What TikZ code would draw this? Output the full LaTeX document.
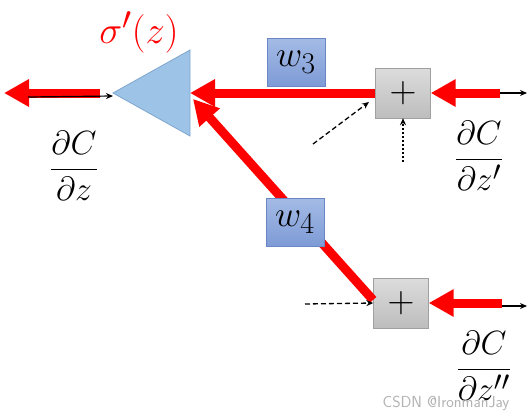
\documentclass[tikz,border=0pt]{standalone}
\usepackage{graphicx}
\usetikzlibrary{arrows.meta}
\definecolor{trifill}{HTML}{9DC3E6}
\definecolor{triline}{HTML}{7FA6CF}
\definecolor{wtop}{HTML}{A4BBE6}
\definecolor{wbot}{HTML}{7E9BD6}
\definecolor{wline}{HTML}{6A86C4}
\definecolor{ptop}{HTML}{DCDCDC}
\definecolor{pbot}{HTML}{BDBDBD}
\definecolor{pline}{HTML}{A0A0A0}
\definecolor{redc}{HTML}{FF0000}
\tikzset{
  wbox/.style={draw=wline, top color=wtop, bottom color=wbot, minimum width=58pt, minimum height=48pt, inner sep=0pt, font=\Huge},
  plusbox/.style={draw=pline, top color=ptop, bottom color=pbot, minimum width=55pt, minimum height=50pt, inner sep=0pt, font=\Huge},
  redarrow/.style={draw=redc, line width=9pt, -{Triangle[length=25pt,width=26pt]}},
  blackarrow/.style={draw=black, line width=1.2pt, -{Stealth[length=7pt,width=6pt]}},
  thinarrow/.style={draw=black, line width=1.3pt, -{Stealth[length=7pt,width=6pt]}},
  fraclabel/.style={font=\Huge, inner sep=0pt},
}
\begin{document}
\begin{tikzpicture}[x=1pt,y=-1pt]
\useasboundingbox (0,0) rectangle (531,418);
% activation triangle
\filldraw[fill=trifill, draw=triline, line width=0.8pt] (113,93) -- (190,50) -- (190,136) -- cycle;
\coordinate (sigW) at (113,96);
\coordinate (sigE) at (190,93);
\coordinate (sigSE) at (193,99);
\node[text=redc, font=\Huge, inner sep=0pt] (sig) at (139,32) {\scalebox{1.55}{$\sigma'(z)$}};
% weight box w3 (below red line)
\node[wbox] (w3) at (296,62) {\scalebox{1.45}{$w_3$}};
% plus boxes
\node[plusbox] (p1) at (403,93) {\scalebox{1.5}{$+$}};
\node[plusbox] (p2) at (401,303) {\scalebox{1.5}{$+$}};
% endpoints
\coordinate (outL) at (4,93);
\coordinate (outLs) at (100,93);
\coordinate (blkL) at (28,97);
\coordinate (in1) at (500,93);
\coordinate (in1b) at (527,93);
\coordinate (in2) at (502,303);
\coordinate (in2b) at (527,306);
\coordinate (in2s) at (502,306);
\coordinate (d1s) at (313,144);
\coordinate (d1e) at (369,102);
\coordinate (d2s) at (403,162);
\coordinate (d3s) at (305,304);
% black forward arrows
\draw[blackarrow] (in1) -- (in1b);
\draw[blackarrow] (in2s) -- (in2b);
% red backward arrows
\draw[redarrow] (in1) -- (p1.east);
\draw[redarrow] (in2) -- (p2.east);
\draw[redarrow] (p1.west) -- (sigE);
\draw[redarrow] (373,300) -- (sigSE);
\draw[redarrow] (outLs) -- (outL);
\draw[blackarrow] (blkL) -- (sigW);
% weight box w4 (over red line)
\node[wbox] (w4) at (295,222) {\scalebox{1.45}{$w_4$}};
% dashed / dotted inputs
\draw[thinarrow, dash pattern=on 5pt off 3pt] (d1s) -- (d1e);
\draw[thinarrow, dash pattern=on 2pt off 2pt, line width=1.8pt] (d2s) -- (p1.south);
\draw[thinarrow, dash pattern=on 5pt off 3pt] (d3s) -- (p2.west);
% gradient labels
\node[fraclabel] (gz) at (74,166) {\scalebox{1.35}{$\displaystyle\frac{\partial C}{\partial z}$}};
\node[fraclabel] (gz1) at (479,156) {\scalebox{1.35}{$\displaystyle\frac{\partial C}{\partial z'}$}};
\node[fraclabel] (gz2) at (484,366) {\scalebox{1.35}{$\displaystyle\frac{\partial C}{\partial z''}$}};
% watermark
\node[text=gray!60, font=\sffamily\fontsize{16}{18}\selectfont, inner sep=0pt] (wm) at (446,403) {CSDN @IronmanJay};
\end{tikzpicture}
\end{document}
